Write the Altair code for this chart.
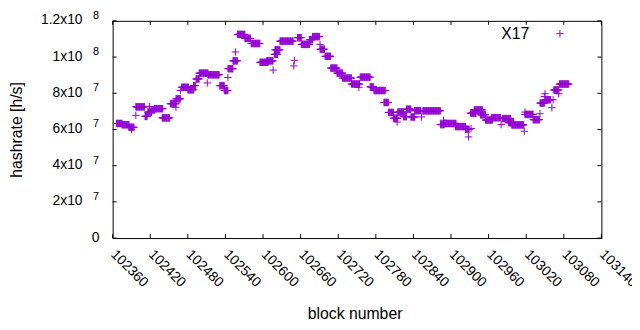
import altair as alt
import pandas as pd

# Runs of consecutive blocks sharing one hashrate value (millions of h/s)
run_start = [102366, 102375, 102386, 102397, 102412, 102416, 102422, 102427, 102439, 102452,
             102461, 102470, 102480, 102489, 102493, 102498, 102512, 102531, 102538, 102544,
             102552, 102559, 102571, 102581, 102595, 102606, 102618, 102619, 102627, 102655,
             102661, 102674, 102679, 102691, 102699, 102708, 102718, 102727, 102741, 102755,
             102771, 102777, 102793, 102800, 102808, 102815, 102824, 102829, 102836, 102842,
             102855, 102883, 102889, 102907, 102923, 102931, 102937, 102947, 102955, 102965,
             102982, 102992, 102997, 103018, 103031, 103042, 103051, 103064, 103073]
run_end = [102375, 102386, 102394, 102411, 102415, 102422, 102427, 102440, 102451, 102461,
           102468, 102481, 102489, 102492, 102498, 102512, 102530, 102538, 102544, 102552,
           102559, 102571, 102580, 102595, 102608, 102616, 102623, 102627, 102648, 102661,
           102674, 102679, 102690, 102698, 102708, 102718, 102727, 102741, 102754, 102771,
           102776, 102795, 102800, 102808, 102815, 102824, 102829, 102836, 102842, 102852,
           102883, 102889, 102908, 102923, 102929, 102940, 102950, 102955, 102966, 102979,
           102995, 103000, 103016, 103031, 103041, 103049, 103059, 103072, 103088]
run_value = [63.3, 62.6, 61.2, 72.5, 67.2, 69.6, 70.8, 71.5, 66.4, 74.2,
             76.9, 83.3, 81.9, 84.2, 87.9, 91.1, 90.2, 84.2, 81.5, 93.6,
             97.9, 112.5, 110.3, 107.5, 97.1, 97.9, 101.5, 104.0, 108.8, 110.7,
             107.0, 109.6, 111.3, 104.3, 100.4, 93.9, 91.1, 88.4, 85.1, 88.9,
             83.5, 81.5, 74.9, 69.4, 66.2, 69.6, 67.1, 71.2, 66.9, 70.4,
             70.3, 62.7, 63.3, 61.6, 60.1, 69.0, 70.8, 68.1, 65.2, 66.5,
             66.0, 63.7, 62.5, 68.3, 65.4, 74.6, 76.4, 81.8, 85.1]

# Isolated blocks
single_block = [102390, 102397, 102412, 102419, 102461, 102468, 102511, 102544, 102556, 102616,
                102649, 102650, 102691, 102753, 102814, 102853, 102888, 102928, 102932, 102980,
                103017, 103018, 103042, 103049, 103050, 103061, 103063, 103072]
single_value = [60.1, 67.8, 67.4, 72.7, 72.3, 81.5, 85.7, 88.7, 102.8, 92.8,
                95.1, 98.2, 107.0, 83.3, 64.1, 66.9, 65.1, 55.9, 60.5, 62.7,
                59.0, 69.6, 68.7, 78.2, 79.7, 72.0, 76.4, 79.7]

x_ticks = list(range(102360, 103141, 60))
y_ticks = [0, 2e7, 4e7, 6e7, 8e7, 1e8, 1.2e8]
y_tick_mantissa = ["0", "2x10", "4x10", "6x10", "8x10", "1x10", "1.2x10"]
y_tick_exponent = ["", "7", "7", "7", "7", "8", "8"]
series_name = "X17"

rows = []
for s, e, v in zip(run_start, run_end, run_value):
    for b in range(s, e + 1):
        rows.append({"block": b, "hashrate": v * 1e6})
for b, v in zip(single_block, single_value):
    rows.append({"block": b, "hashrate": v * 1e6})
df = pd.DataFrame(rows)

W, H = 495, 220
PURPLE = "#9400d3"
PLUS = "M-1,0L1,0M0,-1L0,1"
FONT = "Liberation Sans"

expr = "'" + y_tick_mantissa[-1] + "'"
for v, lab in reversed(list(zip(y_ticks[:-1], y_tick_mantissa[:-1]))):
    expr = f"datum.value < {v * 1.0001 + 1} ? '{lab}' : " + expr

xscale = alt.Scale(domain=[102360, 103140], nice=False, zero=False)
yscale = alt.Scale(domain=[0, 1.2e8], nice=False)
xaxis = alt.Axis(
    values=x_ticks, title="block number", labelAngle=45, labelAlign="left",
    labelBaseline="middle", labelPadding=14, format="d",
    labelOverlap=False, labelBound=False, labelFlush=False,
    titleX=245, titleY=76, titleBaseline="middle", titleAlign="center")
yaxis = alt.Axis(
    values=y_ticks, title="hashrate [h/s]", labelExpr=expr,
    labelPadding={"condition": {"test": "datum.value == 0", "value": 14}, "value": 31},
    labelOverlap=False, labelBound=False, labelFlush=False, labelOffset=-1,
    titleX=-97, titleY=110, titleAlign="center", titleBaseline="middle", titleAngle=-90)

points = alt.Chart(df).mark_point(
    shape=PLUS, filled=False, size=56, strokeWidth=1, color=PURPLE, opacity=1
).encode(
    x=alt.X("block:Q", scale=xscale, axis=xaxis),
    y=alt.Y("hashrate:Q", scale=yscale, axis=yaxis),
)

xt = pd.DataFrame({"block": x_ticks})
yt = pd.DataFrame({"hashrate": y_ticks, "exp": y_tick_exponent})
tick_b = alt.Chart(xt).mark_rule(color="black", strokeWidth=1).encode(
    x=alt.X("block:Q", scale=xscale, axis=xaxis), y=alt.value(H), y2=alt.value(H - 4))
tick_t = alt.Chart(xt).mark_rule(color="black", strokeWidth=1).encode(
    x=alt.X("block:Q", scale=xscale, axis=xaxis), y=alt.value(0), y2=alt.value(4))
tick_l = alt.Chart(yt).mark_rule(color="black", strokeWidth=1).encode(
    y=alt.Y("hashrate:Q", scale=yscale, axis=yaxis), x=alt.value(0), x2=alt.value(4))
tick_r = alt.Chart(yt).mark_rule(color="black", strokeWidth=1).encode(
    y=alt.Y("hashrate:Q", scale=yscale, axis=yaxis), x=alt.value(W - 4), x2=alt.value(W))
sup = alt.Chart(yt).mark_text(
    align="left", baseline="alphabetic", font=FONT, fontSize=11, color="black", dy=-2
).encode(
    y=alt.Y("hashrate:Q", scale=yscale, axis=yaxis), x=alt.value(-20), text="exp:N")

leg_df = pd.DataFrame({"label": [series_name]})
leg_text = alt.Chart(leg_df).mark_text(
    align="right", baseline="middle", font=FONT, fontSize=16, color="black"
).encode(text="label:N", x=alt.value(422), y=alt.value(13))
leg_sym = alt.Chart(leg_df).mark_point(
    shape=PLUS, filled=False, size=56, strokeWidth=1, color=PURPLE, opacity=1
).encode(x=alt.value(453), y=alt.value(13))

chart = alt.layer(points, tick_b, tick_t, tick_l, tick_r, sup, leg_text, leg_sym).properties(
    width=W, height=H,
    autosize=alt.AutoSizeParams(type="none"),
    padding={"left": 106, "top": 11, "right": 31, "bottom": 83},
).configure_view(stroke="black", strokeWidth=1).configure_axis(
    domain=False, ticks=False, grid=False,
    labelFont=FONT, labelFontSize=14, labelColor="black",
    titleFont=FONT, titleFontSize=16, titleFontWeight="normal", titleColor="black",
)

chart.save("out.html", embed_options={"renderer": "svg", "actions": False})
